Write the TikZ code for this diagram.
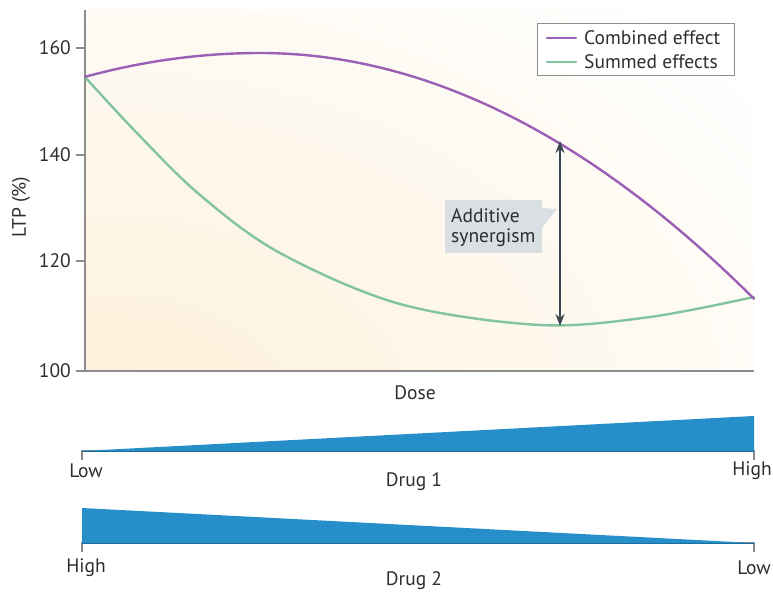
\documentclass[tikz,border=0pt]{standalone}
\usepackage{fontspec}
\setmainfont{PT Sans}
\usetikzlibrary{arrows.meta}
\definecolor{combined}{HTML}{9B5FB5}
\definecolor{summed}{HTML}{82C4A0}
\definecolor{wedgeblue}{HTML}{268FC9}
\definecolor{wedgeline}{HTML}{1D6E9C}
\definecolor{axisgray}{HTML}{8C8C8C}
\definecolor{arrowdark}{HTML}{3A4853}
\definecolor{callout}{HTML}{D9DFE3}
\definecolor{warm}{HTML}{FDF0D8}
\definecolor{inktext}{HTML}{2E2E2E}

\begin{document}
\begin{tikzpicture}[x=1pt,y=-1pt,
  txt/.style={font=\fontsize{19.5}{21}\selectfont, text=inktext, inner sep=0pt},
  axisline/.style={draw=axisgray, line width=1.2pt},
  curve/.style={line width=2.4pt, line cap=round, line join=round}]
\useasboundingbox (0,0) rectangle (773,593);
\coordinate (o) at (85,371);
\coordinate (ytop) at (85,10);
\coordinate (xend) at (754,371);
\coordinate (top) at (560,141);
\coordinate (bot) at (560,326);
% warm background of the plot
\begin{scope}
\clip (85,10) rectangle (754,371);
\fill[white] (85,10) rectangle (754,371);
\shade[inner color=warm, outer color=white] (110,420) ellipse (820 and 560);
\end{scope}
% draws axes
\draw[axisline] (ytop) -- (o) -- (xend);
\foreach \v/\y in {100/371,120/261,140/155,160/48}{
  \draw[axisline] (76,\y) -- (85,\y);
  \node[txt, anchor=east] (tick\v) at (71,\y) {\v};
}
\node[txt, rotate=90] (ylab) at (21,207) {LTP (\%)};
\node[txt] (dose) at (415,393) {Dose};
% draws curves
\draw[curve, summed] plot[smooth, tension=0.55] coordinates {(85,77) (135,131) (200,195) (280,253) (400,304) (540,325) (650,317) (754,297)};
\draw[curve, combined] plot[domain=85:754, samples=60] (\x,{53+(\x<260 ? 0.00078 : 0.001)*(\x-260)*(\x-260)});
% callout and arrow
\fill[callout] (445,200) -- (542,200) -- (542,208) -- (557,209) -- (542,228) -- (542,253) -- (445,253) -- cycle;
\node[txt, anchor=west, align=left] (syn) at (451,228) {Additive\\[-1pt]synergism};
\draw[arrowdark, line width=2.8pt, {Stealth[length=12pt,width=9pt]}-{Stealth[length=12pt,width=9pt]}] (top) -- (bot);
% legend
\draw[axisgray, line width=0.9pt, fill=white] (537,23) rectangle (734,75);
\draw[curve, combined] (547,38) -- (576,38);
\draw[curve, summed] (547,62) -- (576,62);
\node[txt, anchor=west] (leg1) at (584,38) {Combined effect};
\node[txt, anchor=west] (leg2) at (584,62) {Summed effects};
% drug 1 wedge
\draw[axisline] (82,460) -- (82,451) -- (754,451) -- (754,460);
\fill[wedgeblue] (82,451) -- (754,416) -- (754,451) -- cycle;
\draw[wedgeline, line width=1pt] (82,451) -- (754,451);
\node[txt] (low1) at (86,471) {Low};
\node[txt] (high1) at (752,471) {High};
\node[txt] (drug1) at (414,482) {Drug 1};
% drug 2 wedge
\draw[axisline] (82,552) -- (82,543) -- (754,543) -- (754,552);
\fill[wedgeblue] (82,508) -- (754,543) -- (82,543) -- cycle;
\draw[wedgeline, line width=1pt] (82,543) -- (754,543);
\node[txt] (high2) at (86,568) {High};
\node[txt] (low2) at (754,568) {Low};
\node[txt] (drug2) at (414,581) {Drug 2};
\end{tikzpicture}
\end{document}
